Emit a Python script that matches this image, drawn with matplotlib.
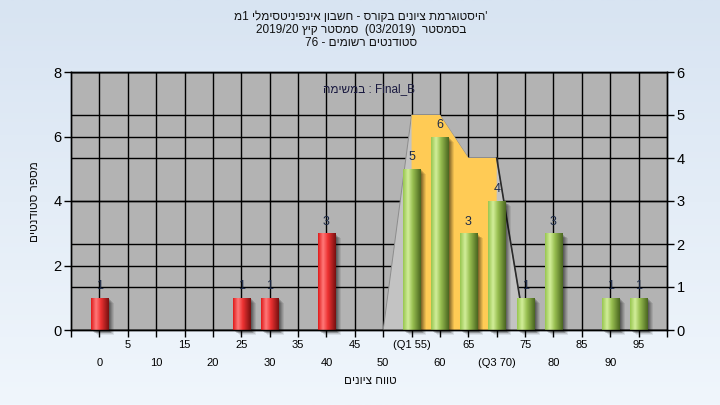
import re
import numpy as np
import matplotlib
matplotlib.use("Agg")
import matplotlib.pyplot as plt
import matplotlib.transforms as mtransforms
from matplotlib.patches import Polygon, Rectangle
from matplotlib.colors import LinearSegmentedColormap

plt.rcParams['font.family'] = ['Liberation Sans', 'DejaVu Sans']

# ---------------- data ----------------
grades = [0, 5, 10, 15, 20, 25, 30, 35, 40, 45, 50, 55, 60, 65, 70, 75, 80, 85, 90, 95]
counts = [1, 0, 0, 0, 0, 1, 1, 0, 3, 0, 0, 5, 6, 3, 4, 1, 3, 0, 1, 1]
tick_labels = ["0", "5", "10", "15", "20", "25", "30", "35", "40", "45", "50",
               "(Q1 55)", "60", "65", "(Q3 70)", "75", "80", "85", "90", "95"]
pass_grade = 55
poly_grades = [50, 55, 60, 65, 70, 75]
poly_values = [0, 5, 5, 4, 4, 0]          # right axis scale
q1, q3 = 55, 70
left_ticks = [0, 2, 4, 6, 8]
right_ticks = [0, 1, 2, 3, 4, 5, 6]

title_lines = ["'היסטוגרמת ציונים בקורס - חשבון אינפיניטסימלי 1מ",
               "בסמסטר  (03/2019)  סמסטר קיץ 2019/20",
               "סטודנטים רשומים - 76"]
inner_word = "במשימה"
inner_tail = " : Final_B"
xlabel = "טווח ציונים"
ylabel = "מספר סטודנטים"

# ---------- simple visual ordering for RTL text ----------
LTR_RUN = re.compile(r'[A-Za-z0-9_][A-Za-z0-9_/.]*[A-Za-z0-9_]|[A-Za-z0-9_]')
HEB_RUN = re.compile(r'[\u0590-\u05FF]+(?: [\u0590-\u05FF]+)*')


def visual(s, rtl=True):
    if rtl:
        r = s[::-1]
        r = LTR_RUN.sub(lambda m: m.group(0)[::-1], r)
        return r.translate(str.maketrans("()", ")("))
    return HEB_RUN.sub(lambda m: m.group(0)[::-1], s)


# ---------------- figure ----------------
W, H = 720, 405
fig = plt.figure(figsize=(7.2, 4.05), dpi=100)

bg = fig.add_axes([0, 0, 1, 1], zorder=-10)
grad = np.linspace(0, 1, 256)[:, None]
bgcmap = LinearSegmentedColormap.from_list("bg", ["#d8e4f2", "#f0f6fc"])
bg.imshow(grad, cmap=bgcmap, aspect="auto", extent=(0, 1, 0, 1))
bg.set_axis_off()

ax = fig.add_axes([71 / W, (H - 330) / H, 596 / W, 258 / H])
ax.set_facecolor("#b3b3b3")
ax2 = ax.twinx()
ax2.patch.set_visible(False)

x = np.arange(len(grades))
XMIN, XMAX = -1, len(grades)
ax.set_xlim(XMIN, XMAX)
ax.set_ylim(0, 8)
ax2.set_ylim(0, 6)

# grid (both scales), behind everything
for t in left_ticks:
    ax.axhline(t, color="black", lw=1.0, zorder=0.5)
for t in right_ticks:
    ax.plot([XMIN, XMAX], [t, t], color="black", lw=1.0, zorder=0.5,
            transform=ax2.transData)
for xi in x:
    ax.axvline(xi, color="black", lw=1.0, zorder=0.5)


def g2x(g):
    return grades.index(g)


# frequency polygon (right axis)
px = [g2x(g) for g in poly_grades]
poly = Polygon(list(zip(px, poly_values)), closed=True, facecolor="#c3c3c3",
               edgecolor="#8c8c8c", lw=0.7, zorder=1, transform=ax2.transData)
ax.add_patch(poly)
inner = [(g2x(g), v) for g, v in zip(poly_grades, poly_values) if q1 <= g <= q3]
ypts = [(inner[0][0], 0)] + inner + [(inner[-1][0], 0)]
ax.add_patch(Polygon(ypts, closed=True, facecolor="#ffcb55", edgecolor="none",
                     zorder=1.1, transform=ax2.transData))
ax.plot(px[-2:], poly_values[-2:], color="#2a2a2a", lw=1.2, zorder=1.2,
        transform=ax2.transData)

# bars
colors = ["red" if g < pass_grade else "green" for g in grades]
bars = ax.bar(x, counts, width=0.6, color="none", edgecolor="none", zorder=3)

red_cmap = LinearSegmentedColormap.from_list(
    "r", [(0, "#e01a1a"), (0.28, "#ff7a7a"), (0.55, "#ee3232"), (1, "#781010")])
green_cmap = LinearSegmentedColormap.from_list(
    "g", [(0, "#98c650"), (0.28, "#d2ee9a"), (0.55, "#98bf50"), (1, "#4a6620")])
hgrad = np.linspace(0, 1, 64)[None, :]

for b, c, n, g in zip(bars, colors, counts, grades):
    if n == 0:
        continue
    x0, w, h = b.get_x(), b.get_width(), b.get_height()
    # soft shadow
    for k, a in zip([2, 3, 4, 5, 6], [0.16, 0.14, 0.12, 0.10, 0.08]):
        off = mtransforms.ScaledTranslation(k * 0.72 / 72, -k * 0.6 / 72,
                                            fig.dpi_scale_trans)
        ax.add_patch(Rectangle((x0, 0), w, h, facecolor="black", alpha=a,
                               edgecolor="none", zorder=2.5,
                               transform=ax.transData + off, clip_on=False))
    im = ax.imshow(hgrad, cmap=red_cmap if c == "red" else green_cmap,
                   extent=(x0, x0 + w, 0, h), aspect="auto", zorder=3,
                   interpolation="bilinear")
    im.set_clip_path(b)
    ax.annotate(str(n), (b.get_x() + w / 2, h), xytext=(0, 4),
                textcoords="offset points", ha="center", va="bottom",
                fontsize=9, color="#1c2a48", zorder=4)

ax.set_xlim(XMIN, XMAX)
ax.set_ylim(0, 8)

# ticks
ax.set_yticks(left_ticks)
ax.tick_params(axis="y", direction="out", length=5, width=1, pad=2,
               labelsize=10.5, colors="black")
ax2.set_yticks(right_ticks)
ax2.tick_params(axis="y", direction="out", length=5, width=1, pad=2,
                labelsize=10.5, colors="black")

even = [i for i in x if i % 2 == 0]
odd = [i for i in x if i % 2 == 1]
ax.set_xticks(even)
ax.set_xticklabels([tick_labels[i] for i in even])
ax.set_xticks(odd + [XMIN, XMAX], minor=True)
ax.set_xticklabels([tick_labels[i] for i in odd] + ["", ""], minor=True)
ax.tick_params(axis="x", which="major", direction="out", length=5, width=1,
               pad=15, labelsize=8)
ax.tick_params(axis="x", which="minor", direction="out", length=5, width=1,
               pad=2.5, labelsize=8)

for sp in list(ax.spines.values()) + list(ax2.spines.values()):
    sp.set_color("black")
    sp.set_linewidth(1.0)

# texts
for i, line in enumerate(title_lines):
    fig.text(361 / W, 1 - (17 + 13 * i) / H, visual(line), ha="center",
             va="center", fontsize=8.5, color="#101010")
ax.text(0.5, 0.935, visual(inner_word, rtl=False) + inner_tail,
        transform=ax.transAxes, ha="center", va="center", fontsize=8.5,
        color="#1a1a40", zorder=5)
fig.text(370 / W, 1 - 381 / H, visual(xlabel), ha="center", va="center",
         fontsize=8.5, color="#101010")
fig.text(35 / W, 1 - 202 / H, visual(ylabel), ha="center", va="center",
         rotation=90, fontsize=8.5, color="#101010")

fig.savefig("out.png", dpi=100)
